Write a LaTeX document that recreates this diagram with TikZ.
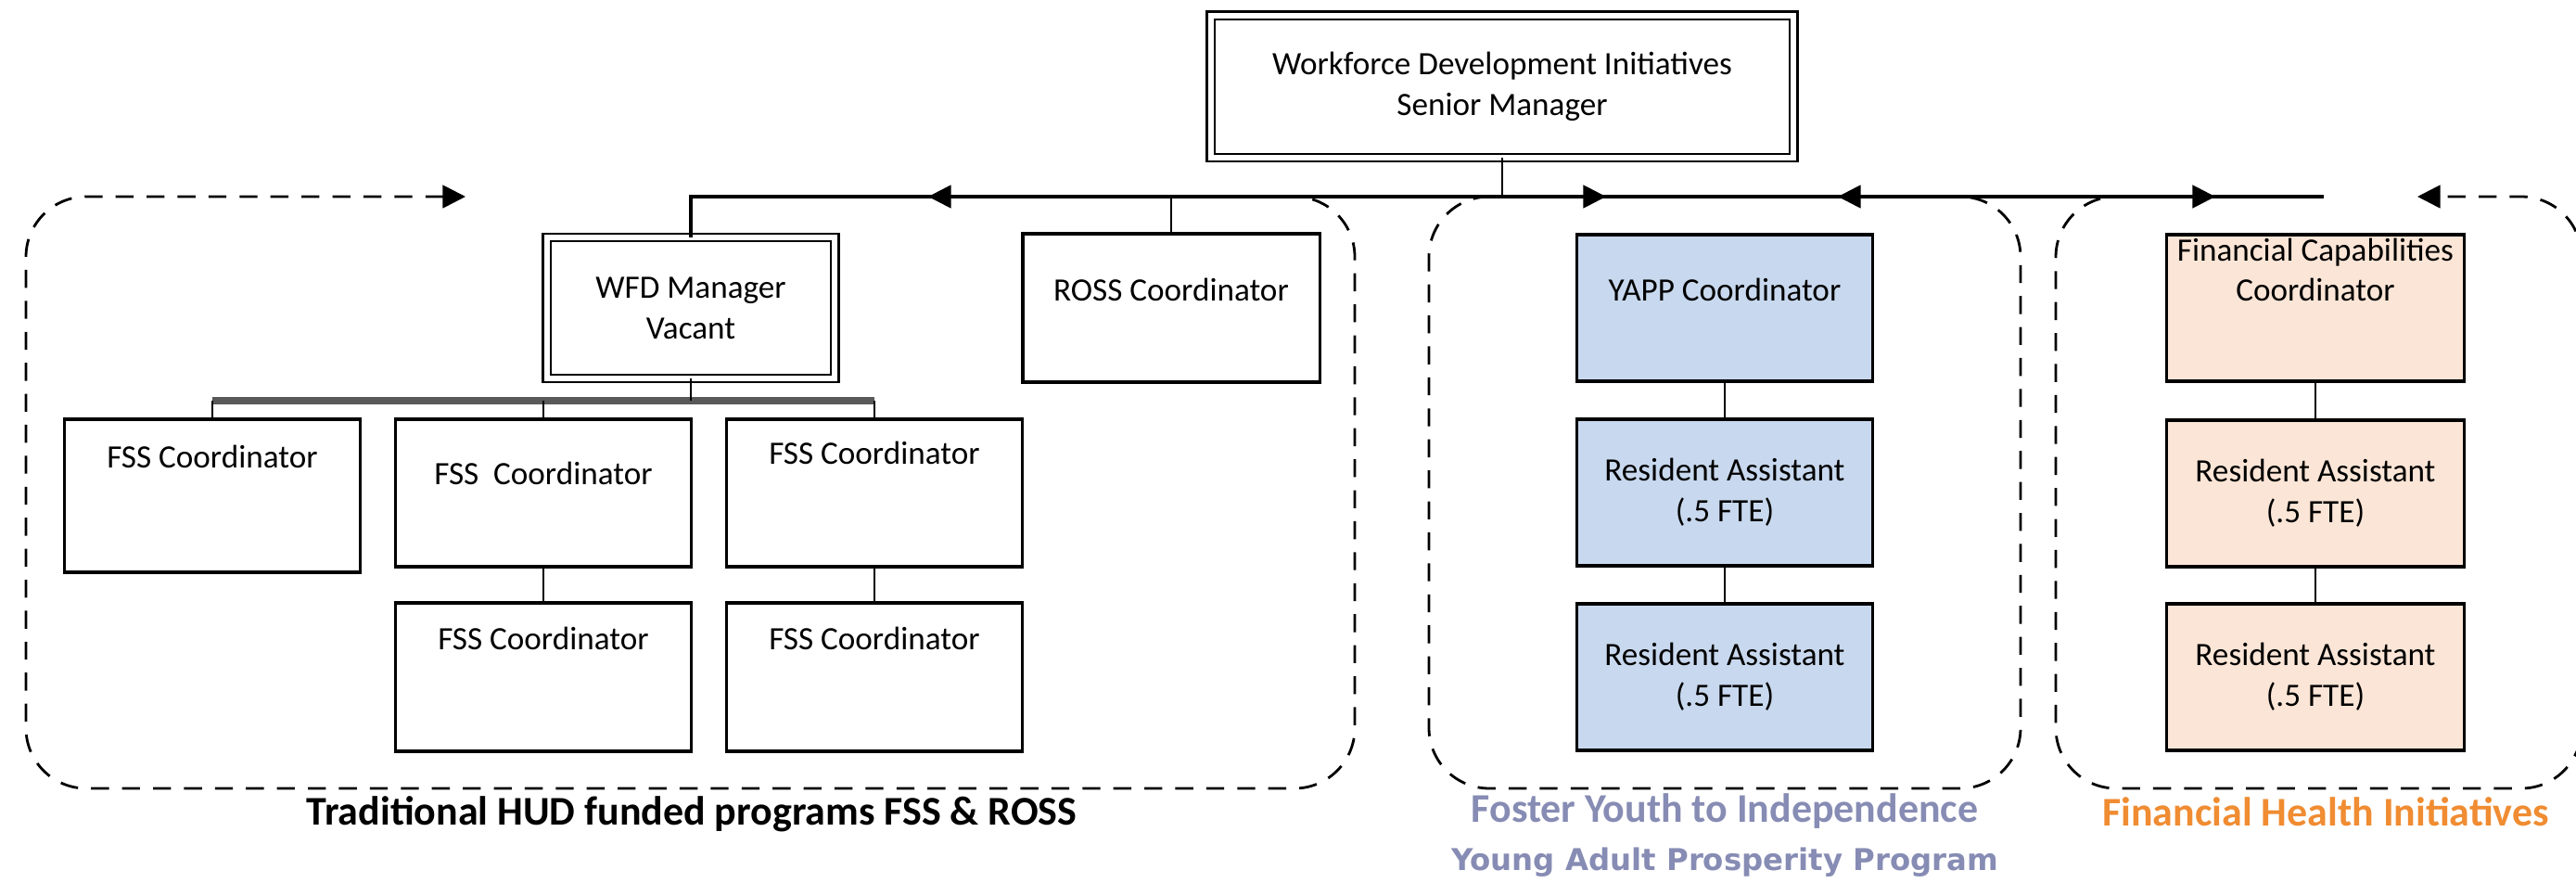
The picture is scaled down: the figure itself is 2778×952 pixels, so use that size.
\documentclass[tikz,border=0pt]{standalone}
\usepackage{fontspec}
\setmainfont{Carlito}
\newfontfamily\yapfont{DejaVu Sans}
\usetikzlibrary{arrows.meta,calc}
\definecolor{bluefill}{RGB}{200,216,238}
\definecolor{peachfill}{RGB}{251,229,214}
\definecolor{fostercol}{RGB}{135,140,180}
\definecolor{orangecol}{RGB}{240,140,50}
\begin{document}
\begin{tikzpicture}[x=0.01cm, y=-0.01cm,
  orgbox/.style={draw=black, line width=0.9pt, inner sep=0pt, outer sep=0pt, align=center,
    font=\fontsize{10}{12.5}\selectfont, fill=white},
  dbox/.style={orgbox, line width=0.75pt, double=white, double distance=1.6pt},
  bluebox/.style={orgbox, fill=bluefill},
  peachbox/.style={orgbox, fill=peachfill},
  txt/.style={font=\fontsize{10}{12}\selectfont, align=center, inner sep=0pt},
  conn/.style={line width=0.8pt},
  mainline/.style={line width=1.2pt},
  busline/.style={line width=2pt, draw=black!65},
  rgn/.style={line width=0.8pt, dash pattern=on 5.5pt off 4pt, rounded corners=0.65cm,
    {Triangle[length=7pt,width=7pt]}-{Triangle[length=7pt,width=7pt]}},
  lab/.style={font=\fontsize{12.5}{14}\selectfont\bfseries, inner sep=0pt}
]
\useasboundingbox (0,0) rectangle (2778,952);
\fill[white] (0,0) rectangle (2778,952);

% dashed regions
\coordinate (aL1) at (502,212); \coordinate (aL2) at (1001,212);
\coordinate (aF1) at (1732,212); \coordinate (aF2) at (1982,212);
\coordinate (aH1) at (2389,212); \coordinate (aH2) at (2607,212);
\draw[rgn] (aL1) -- (28,212) -- (28,850) -- (1461,850) -- (1461,212) -- (aL2);
\draw[rgn] (aF1) -- (1541,212) -- (1541,850) -- (2179,850) -- (2179,212) -- (aF2);
\draw[rgn] (aH1) -- (2217,212) -- (2217,850) -- (2784,850) -- (2784,212) -- (aH2);

% boxes
\node[dbox, minimum width=6.28cm, minimum height=1.53cm] (top) at (1620,93.5)
  {Workforce Development Initiatives\\Senior Manager};
\node[dbox, minimum width=3.10cm, minimum height=1.52cm] (wfd) at (745,332) {WFD Manager\\Vacant};
\node[orgbox, minimum width=3.20cm, minimum height=1.60cm] (ross) at (1263,332) {};
\node[txt] (rosst) at (1263,312) {ROSS Coordinator};

\node[orgbox, minimum width=3.18cm, minimum height=1.65cm] (fss1) at (229,534.5) {};
\node[txt] (fss1t) at (229,492) {FSS Coordinator};
\node[orgbox, minimum width=3.18cm, minimum height=1.59cm] (fss2) at (586,531.5) {};
\node[txt] (fss2t) at (586,510) {FSS~ Coordinator};
\node[orgbox, minimum width=3.18cm, minimum height=1.59cm] (fss3) at (943,531.5) {};
\node[txt] (fss3t) at (943,488) {FSS Coordinator};
\node[orgbox, minimum width=3.18cm, minimum height=1.60cm] (fss4) at (586,730) {};
\node[txt] (fss4t) at (586,688) {FSS Coordinator};
\node[orgbox, minimum width=3.18cm, minimum height=1.60cm] (fss5) at (943,730) {};
\node[txt] (fss5t) at (943,688) {FSS Coordinator};

\node[bluebox, minimum width=3.19cm, minimum height=1.58cm] (yapp) at (1860,332) {};
\node[txt] (yappt) at (1860,312) {YAPP Coordinator};
\node[bluebox, minimum width=3.19cm, minimum height=1.58cm] (ra1) at (1860,531) {Resident Assistant\\(.5 FTE)};
\node[bluebox, minimum width=3.19cm, minimum height=1.58cm] (ra2) at (1860,730) {Resident Assistant\\(.5 FTE)};

\node[peachbox, minimum width=3.21cm, minimum height=1.58cm] (fcc) at (2497,332) {};
\node[txt] (fcct) at (2497,291) {Financial Capabilities\\Coordinator};
\node[peachbox, minimum width=3.21cm, minimum height=1.58cm] (fra1) at (2497,532) {Resident Assistant\\(.5 FTE)};
\node[peachbox, minimum width=3.21cm, minimum height=1.58cm] (fra2) at (2497,730) {Resident Assistant\\(.5 FTE)};

% connectors
\coordinate (mainR) at (2506,212);
\coordinate (busy) at (0,432);
\draw[mainline] (wfd.north) |- (mainR);
\draw[conn] (top.south) -- (top.south |- mainR);
\draw[conn] (ross.north) -- (ross.north |- mainR);
\draw[busline] (fss1.north |- busy) -- (fss3.north |- busy);
\draw[conn] (wfd.south) -- (wfd.south |- busy);
\draw[conn] (fss1.north) -- (fss1.north |- busy);
\draw[conn] (fss2.north) -- (fss2.north |- busy);
\draw[conn] (fss3.north) -- (fss3.north |- busy);
\draw[conn] (fss2.south) -- (fss4.north);
\draw[conn] (fss3.south) -- (fss5.north);
\draw[conn] (yapp.south) -- (ra1.north);
\draw[conn] (ra1.south) -- (ra2.north);
\draw[conn] (fcc.south) -- (fra1.north);
\draw[conn] (fra1.south) -- (fra2.north);

% labels
\node[lab] (lab1) at (746,878) {Traditional HUD funded programs FSS \& ROSS};
\node[lab, text=fostercol] (lab2) at (1860,875) {Foster Youth to Independence};
\node[font=\yapfont\bfseries\fontsize{9.2}{11}\selectfont, text=fostercol, inner sep=0pt] (lab3) at (1860,930) {Young Adult Prosperity Program};
\node[lab, text=orangecol] (lab4) at (2508,875) {Financial Health Initiatives};
\end{tikzpicture}
\end{document}
